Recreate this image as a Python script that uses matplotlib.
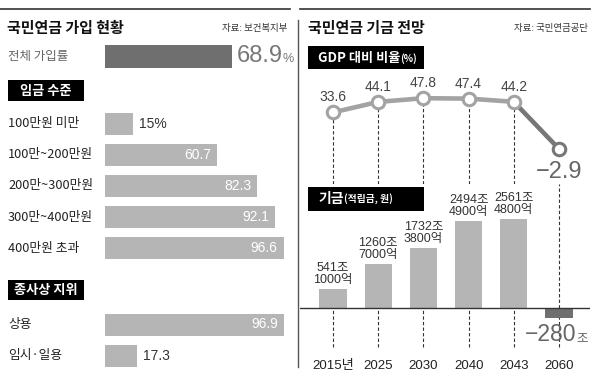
import matplotlib
matplotlib.use('Agg')
import matplotlib.pyplot as plt
from matplotlib.patches import Rectangle
from matplotlib.lines import Line2D
from matplotlib.text import Annotation

plt.rcParams['font.family'] = ['Noto Sans CJK KR', 'DejaVu Sans']
NUM = ['DejaVu Sans Condensed', 'Liberation Sans Narrow', 'Liberation Sans', 'Noto Sans CJK KR']

# ---------------- data ----------------
overall_label = '전체 가입률'
overall_value = 68.9
wage_labels = ['100만원 미만', '100만~200만원', '200만~300만원', '300만~400만원', '400만원 초과']
wage_values = [15, 60.7, 82.3, 92.1, 96.6]
job_labels = ['상용', '임시·일용']
job_values = [96.9, 17.3]
years = ['2015년', '2025', '2030', '2040', '2043', '2060']
gdp_ratio = [33.6, 44.1, 47.8, 47.4, 44.2, -2.9]
fund_jo = [541.1, 1260.7, 1732.38, 2494.49, 2561.48, -280]

W, H = 600, 382
fig = plt.figure(figsize=(6, 3.82), dpi=100)
fig.patch.set_facecolor('white')


def fx(x):
    return x / W


def fy(y):
    return 1 - y / H


def txt(x, y, s, **kw):
    kw.setdefault('va', 'center')
    kw.setdefault('zorder', 5)
    return fig.text(fx(x), fy(y), s, **kw)


def fig_annot(s, ref, xy, **kw):
    a = Annotation(s, xy=xy, xycoords=ref, annotation_clip=False, **kw)
    a.set_zorder(6)
    fig.add_artist(a)
    return a


def add_ax(x0, y0, x1, y1):
    ax = fig.add_axes([x0 / W, 1 - y1 / H, (x1 - x0) / W, (y1 - y0) / H])
    ax.set_facecolor('none')
    return ax


def box(x0, y0, x1, y1):
    r = Rectangle((fx(x0), fy(y1)), (x1 - x0) / W, (y1 - y0) / H,
                  transform=fig.transFigure, color='black', lw=0)
    r.set_zorder(4)
    fig.add_artist(r)


LIGHT = '#b5b5b5'
DARK = '#6f6f6f'

# ---------------- frame lines ----------------
fig.add_artist(Line2D([0, fx(290)], [fy(9), fy(9)], color='#333333', lw=1.2))
fig.add_artist(Line2D([fx(300), fx(590)], [fy(9), fy(9)], color='#333333', lw=1.2))
fig.add_artist(Line2D([fx(298), fx(298)], [fy(20), fy(367)], color='#555555', lw=1))

# ---------------- left panel ----------------
txt(7, 28, '국민연금 가입 현황', fontsize=10.8, weight='bold', color='#111111')
txt(287, 28, '자료: 보건복지부', fontsize=6.8, ha='right', color='#333333')

axL = add_ax(105, 0, 290, 382)
axL.set_xlim(0, 100)
axL.set_ylim(382, 0)
axL.axis('off')

# overall
y_over = 56.5
axL.barh(y_over, overall_value, height=23, color=DARK)
txt(8, y_over, overall_label, fontsize=9, color='#666666')
t = axL.annotate(f'{overall_value:g}', (overall_value, y_over), xytext=(4, 0),
                 textcoords='offset pixels', ha='left', va='center',
                 fontsize=17, color='#777777', family=NUM)
axL.annotate('%', xy=(1, 0.1), xycoords=t, ha='left', va='bottom',
             fontsize=9, color='#777777', family=NUM)

# section boxes
box(8, 80, 84, 101)
txt(46, 90.5, '임금 수준', fontsize=9.5, weight='bold', color='white', ha='center')
box(8, 280, 84, 300)
txt(46, 290, '종사상 지위', fontsize=9.5, weight='bold', color='white', ha='center')


def draw_rows(labels, values, y0, step, unit_first=''):
    ys = [y0 + step * i for i in range(len(values))]
    axL.barh(ys, values, height=22, color=LIGHT)
    for i, (lab, v, y) in enumerate(zip(labels, values, ys)):
        txt(8, y, lab, fontsize=9.2, color='#222222')
        s = f'{v:g}' + (unit_first if i == 0 else '')
        if v < 30:
            axL.annotate(s, (v, y), xytext=(6, 0), textcoords='offset pixels',
                         ha='left', va='center', fontsize=10, color='#333333', family=NUM)
        else:
            axL.annotate(s, (v, y), xytext=(-6, 0), textcoords='offset pixels',
                         ha='right', va='center', fontsize=10, color='white', family=NUM)


draw_rows(wage_labels, wage_values, 123.5, 31.2, unit_first='%')
draw_rows(job_labels, job_values, 324.5, 31)

# ---------------- right panel ----------------
txt(308, 28, '국민연금 기금 전망', fontsize=10.8, weight='bold', color='#111111')
txt(588, 28, '자료: 국민연금공단', fontsize=6.8, ha='right', color='#333333')

XLIM = (-33 / 45.2, (590 - 333) / 45.2)
xs = list(range(len(years)))

# GDP ratio line
box(308, 46, 424, 69)
tg = txt(318, 58, 'GDP 대비 비율', fontsize=9.5, weight='bold', color='white')
fig_annot('(%)', tg, (1, 0.1), ha='left', va='bottom',
          fontsize=7, weight='bold', color='white')

axG = add_ax(300, 60, 590, 184)
axG.set_xlim(*XLIM)
axG.set_ylim(-38, 86)
axG.axis('off')
axG.vlines(xs[:-1], -38, gdp_ratio[:-1], colors='#333333', lw=0.8,
           linestyles=(0, (3, 2)), zorder=1)
axG.plot(xs[:-1], gdp_ratio[:-1], color='#a3a3a3', lw=3.3, zorder=2, solid_capstyle='round')
axG.plot(xs[-2:], gdp_ratio[-2:], color='#777777', lw=3.3, zorder=2, solid_capstyle='round')
axG.plot(xs[:-1], gdp_ratio[:-1], ls='none', marker='o', ms=9, mfc='white',
         mec='#a3a3a3', mew=2.2, zorder=3)
axG.plot(xs[-1:], gdp_ratio[-1:], ls='none', marker='o', ms=9, mfc='white',
         mec='#777777', mew=2.2, zorder=3)
for x, v in zip(xs[:-1], gdp_ratio[:-1]):
    axG.annotate(f'{v:g}', (x, v), xytext=(0, 8), textcoords='offset pixels',
                 ha='center', va='bottom', fontsize=10, color='#444444', family=NUM)
axG.annotate(f'{gdp_ratio[-1]:g}'.replace('-', '\u2212'), (xs[-1], gdp_ratio[-1]),
             xytext=(0, -12), textcoords='offset pixels', ha='center', va='top',
             fontsize=17, color='#666666', family=NUM, zorder=5,
             bbox=dict(facecolor='white', edgecolor='none', pad=0))

# fund bars
axB = add_ax(300, 184, 590, 350)
axB.set_xlim(*XLIM)
axB.set_ylim(-1210, 3571)
for s in axB.spines.values():
    s.set_visible(False)
axB.set_yticks([])
axB.set_xticks(xs, years)
axB.tick_params(axis='x', length=0, pad=7)
for lab in axB.get_xticklabels():
    lab.set_fontfamily(NUM)
    lab.set_fontsize(9.5)
    lab.set_color('#222222')

axB.vlines(xs, -1123, 0, colors='#333333', lw=0.8, linestyles=(0, (3, 2)), zorder=0)
axB.vlines(xs[-1], 0, 3571, colors='#333333', lw=0.8, linestyles=(0, (3, 2)), zorder=0)
colors = [LIGHT if v >= 0 else DARK for v in fund_jo]
axB.bar(xs, fund_jo, width=0.6, color=colors, zorder=2)
axB.axhline(0, color='#333333', lw=1, zorder=3)

for x, v in zip(xs, fund_jo):
    if v >= 0:
        jo = int(v)
        eok = int(round((v - jo) * 10000))
        axB.annotate(f'{jo}조\n{eok}억', (x, v), xytext=(0, 3), textcoords='offset pixels',
                     ha='center', va='bottom', fontsize=9, linespacing=1.0,
                     color='#333333', family=NUM)
    else:
        tn = axB.annotate(f'{v:g}'.replace('-', '\u2212'), (x, v), xytext=(17, -5),
                          textcoords='offset pixels', ha='right', va='top',
                          fontsize=16.5, color='#666666', family=NUM)
        axB.annotate('조', xy=(1, 0.05), xycoords=tn, ha='left', va='bottom',
                     fontsize=9, color='#666666')

# "기금" box
box(308, 187, 424, 211)
tf = txt(318, 199, '기금', fontsize=10, weight='bold', color='white')
fig_annot('(적립금, 원)', tf, (1, 0.12), ha='left', va='bottom',
          fontsize=7, weight='bold', color='white')

fig.savefig('out.png', dpi=100, facecolor='white')
